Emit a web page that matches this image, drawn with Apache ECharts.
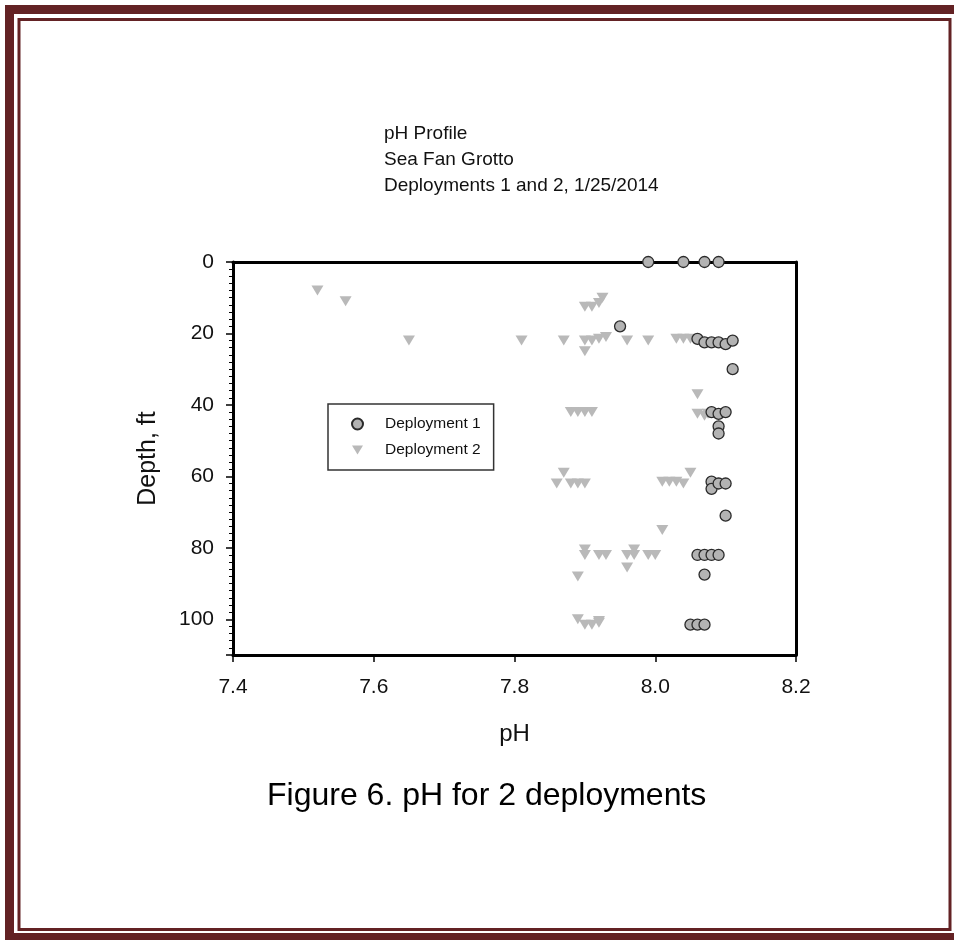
<!DOCTYPE html>
<html>
<head>
<meta charset="utf-8">
<script src="https://cdn.jsdelivr.net/npm/echarts@6/dist/echarts.min.js"></script>
<style>
html,body{margin:0;padding:0;background:#fff;}
#chart{width:954px;height:940px;}
</style>
</head>
<body>
<div id="chart"></div>
<script>
// ---- data ----
const titleLines = ["pH Profile", "Sea Fan Grotto", "Deployments 1 and 2, 1/25/2014"];
const caption = "Figure 6. pH for 2 deployments";
const seriesNames = ["Deployment 1", "Deployment 2"];
const xTicks = [7.4, 7.6, 7.8, 8.0, 8.2];
const yTicks = [0, 20, 40, 60, 80, 100];

const d1pH    = [7.99, 8.04, 8.07, 8.09, 7.95, 8.06, 8.07, 8.08, 8.09, 8.10, 8.11, 8.11, 8.08, 8.09, 8.10, 8.09, 8.09, 8.08, 8.08, 8.09, 8.10, 8.10, 8.06, 8.07, 8.08, 8.09, 8.07, 8.05, 8.06, 8.07];
const d1Depth = [0,    0,    0,    0,    18,   21.5, 22.5, 22.5, 22.5, 23,   22,   30,   42,   42.5, 42,   46,   48,   61.5, 63.5, 62,   62,   71,   82,   82,   82,   82,   87.5, 101.5, 101.5, 101.5];

const d2pH    = [7.52, 7.56, 7.65, 7.90, 7.91, 7.92, 7.925, 7.81, 7.87, 7.90, 7.91, 7.92, 7.93, 7.90, 7.96, 7.99, 8.03, 8.04, 8.05, 8.06, 8.06, 7.88, 7.89, 7.90, 7.91, 8.06, 8.07, 8.075, 7.87, 7.86, 7.88, 7.89, 7.90, 8.01, 8.02, 8.03, 8.04, 8.05, 8.01, 7.90, 7.90, 7.92, 7.93, 7.96, 7.97, 7.97, 7.99, 8.00, 7.96, 7.89, 7.89, 7.90, 7.91, 7.92, 7.92];
const d2Depth = [8,    11,   22,   12.5, 12.5, 11.5, 10,    22,   22,   22,   22,   21.5, 21,   25,   22,   22,   21.5, 21.5, 21.5, 22,   37,   42,   42,   42,   42,   42.5, 43,   42.5,  59,   62,   62,   62,   62,   61.5, 61.5, 61.5, 62,   59,   75,   80.5, 82,   82,   82,   82,   80.5, 82,   82,   82,   85.5, 88,   100,  101.5, 101.5, 101, 100.5];

// ---- chart ----
const FONT = "Liberation Sans, Arial, sans-serif";
const DARK = "#632224";
const triPath = "path://M0,0 L12,0 L6,10 Z";

function pairs(xs, ys){ return xs.map((x,i)=>[x, ys[i]]); }

const chart = echarts.init(document.getElementById('chart'));
chart.setOption({
  animation: false,
  backgroundColor: '#ffffff',
  textStyle: { fontFamily: FONT },
  grid: { left: 233, right: 158, top: 262, bottom: 285, containLabel: false },
  xAxis: [{
    type: 'value', position: 'bottom', min: 7.4, max: 8.2, interval: 0.2,
    name: 'pH', nameLocation: 'middle', nameGap: 67,
    nameTextStyle: { fontSize: 24, color: '#111', fontFamily: FONT },
    axisLine: { show: true, onZero: false, lineStyle: { color: '#000', width: 3 } },
    axisTick: { show: true, inside: false, length: 7, lineStyle: { color: '#000', width: 1.5 } },
    axisLabel: { margin: 22, fontSize: 21, color: '#111', fontFamily: FONT,
      formatter: v => { const t = xTicks.find(k => Math.abs(k - v) < 1e-6); return t === undefined ? '' : t.toFixed(1); } },
    splitLine: { show: false }
  }, {
    type: 'value', position: 'top', min: 7.4, max: 8.2,
    axisLine: { show: true, onZero: false, lineStyle: { color: '#000', width: 3 } },
    axisTick: { show: false }, axisLabel: { show: false }, splitLine: { show: false }
  }],
  yAxis: [{
    type: 'value', position: 'left', inverse: true, min: 0, max: 110, interval: 20,
    name: 'Depth, ft', nameLocation: 'middle', nameGap: 72, nameRotate: 90,
    nameTextStyle: { fontSize: 25, color: '#111', fontFamily: FONT },
    axisLine: { show: true, onZero: false, lineStyle: { color: '#000', width: 3 } },
    axisTick: { show: true, inside: false, length: 7, lineStyle: { color: '#000', width: 1.5 } },
    minorTick: { show: true, splitNumber: 10, length: 4, lineStyle: { color: '#000', width: 1 } },
    axisLabel: { margin: 19, fontSize: 21, color: '#111', fontFamily: FONT, showMaxLabel: false,
      formatter: v => (yTicks.indexOf(v) >= 0 ? String(v) : '') },
    splitLine: { show: false }, minorSplitLine: { show: false }
  }, {
    type: 'value', position: 'right', inverse: true, min: 0, max: 110,
    axisLine: { show: true, onZero: false, lineStyle: { color: '#000', width: 3 } },
    axisTick: { show: false }, axisLabel: { show: false }, splitLine: { show: false }
  }],
  legend: {
    orient: 'vertical', left: 328, top: 404,
    data: seriesNames,
    borderColor: '#333', borderWidth: 1.5, borderRadius: 0,
    padding: [12, 13, 12, 23],
    itemWidth: 11, itemHeight: 11, itemGap: 10,
    textStyle: { fontSize: 15.5, color: '#111', fontFamily: FONT, padding: [0, 0, 0, 17] }
  },
  title: [
    { text: titleLines.join('\n'), left: 379, top: 116,
      textStyle: { fontSize: 19, fontWeight: 'normal', color: '#111', fontFamily: FONT, lineHeight: 26 } },
    { text: caption, left: 262, top: 775,
      textStyle: { fontSize: 32, fontWeight: 'normal', color: '#000', fontFamily: FONT } }
  ],
  graphic: [
    { type: 'rect', silent: true, z: 100,
      shape: { x: 9.5, y: 9.5, width: 960, height: 928 },
      style: { fill: 'none', stroke: DARK, lineWidth: 9 } },
    { type: 'rect', silent: true, z: 100,
      shape: { x: 19, y: 19.5, width: 931, height: 910 },
      style: { fill: 'none', stroke: DARK, lineWidth: 3 } }
  ],
  series: [{
    name: seriesNames[1], type: 'scatter', xAxisIndex: 0, yAxisIndex: 0, z: 3, clip: false,
    symbol: triPath, symbolSize: [12, 10],
    itemStyle: { color: '#b9b9b9', opacity: 1 },
    data: pairs(d2pH, d2Depth)
  }, {
    name: seriesNames[0], type: 'scatter', xAxisIndex: 0, yAxisIndex: 0, z: 4, clip: false,
    symbol: 'circle', symbolSize: 11,
    itemStyle: { color: '#b3b3b3', borderColor: '#2a2a2a', borderWidth: 1.3, opacity: 1 },
    data: pairs(d1pH, d1Depth)
  }]
});
</script>
</body>
</html>
